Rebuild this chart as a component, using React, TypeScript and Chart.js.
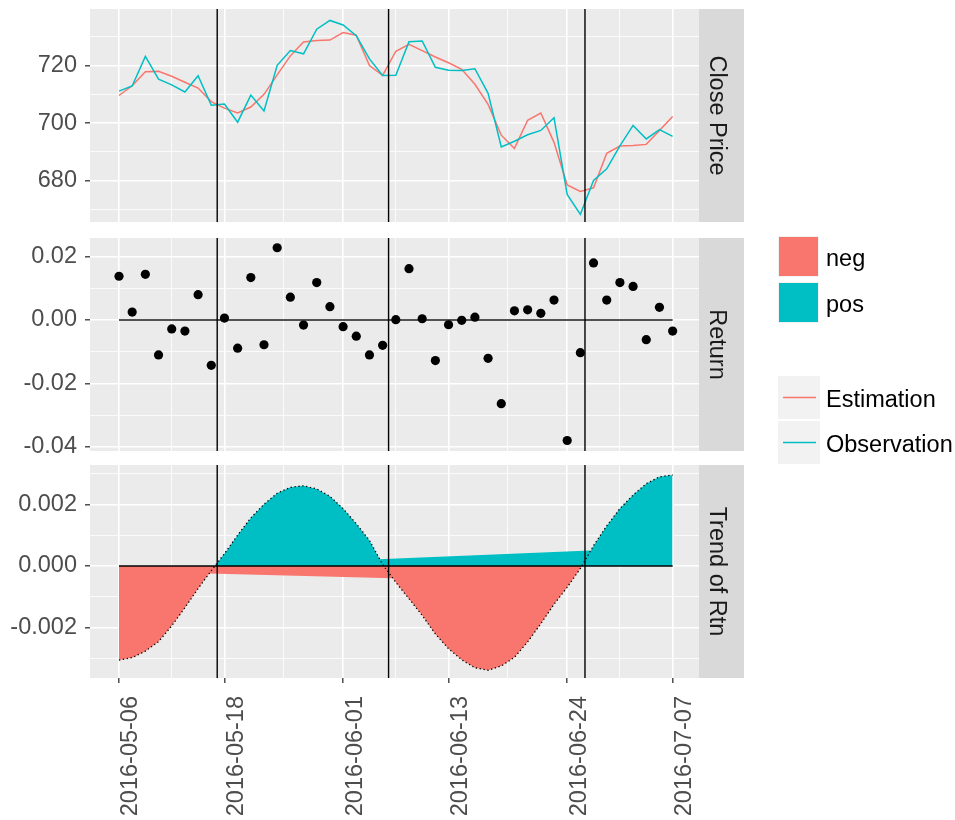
import React, { useEffect, useRef } from 'react';
import { Chart, registerables } from 'chart.js';

Chart.register(...registerables);

// ---------------- data ----------------
const tradingDays = [
  '2016-05-06', '2016-05-09', '2016-05-10', '2016-05-11', '2016-05-12', '2016-05-13',
  '2016-05-16', '2016-05-17', '2016-05-18', '2016-05-19', '2016-05-20', '2016-05-23',
  '2016-05-24', '2016-05-25', '2016-05-26', '2016-05-27', '2016-05-31', '2016-06-01',
  '2016-06-02', '2016-06-03', '2016-06-06', '2016-06-07', '2016-06-08', '2016-06-09',
  '2016-06-10', '2016-06-13', '2016-06-14', '2016-06-15', '2016-06-16', '2016-06-17',
  '2016-06-20', '2016-06-21', '2016-06-22', '2016-06-23', '2016-06-24', '2016-06-27',
  '2016-06-28', '2016-06-29', '2016-06-30', '2016-07-01', '2016-07-05', '2016-07-06',
  '2016-07-07',
];

const tickDates = ['2016-05-06', '2016-05-18', '2016-06-01', '2016-06-13', '2016-06-24', '2016-07-07'];

const closeObserved = [
  711.12, 712.9, 723.18, 715.29, 713.31, 710.83, 716.49, 706.23, 706.63, 700.32,
  709.74, 704.24, 720.09, 725.27, 724.12, 732.66, 735.72, 734.15, 730.4, 722.34,
  716.55, 716.65, 728.28, 728.58, 719.41, 718.36, 718.27, 718.92, 710.36, 691.72,
  693.71, 695.94, 697.46, 701.87, 675.22, 668.26, 680.04, 684.11, 692.1, 699.21,
  694.49, 697.77, 695.36,
];

const closeEstimated = [
  709.6, 713.0, 717.9, 718.0, 716.3, 714.2, 712.2, 707.5, 705.2, 703.5,
  705.6, 710.0, 716.8, 723.4, 728.2, 728.7, 728.9, 731.5, 730.6, 720.0,
  716.6, 725.0, 727.4, 725.2, 723.0, 721.0, 718.7, 713.5, 706.5, 695.8,
  691.2, 701.0, 703.5, 693.3, 678.5, 676.2, 677.5, 689.5, 692.0, 692.2,
  692.6, 697.4, 702.3,
];

const dailyReturn = [
  0.0138, 0.0025, 0.0144, -0.011, -0.0028, -0.0035, 0.008, -0.0143, 0.0006, -0.0089,
  0.0134, -0.0078, 0.0228, 0.0072, -0.0016, 0.0118, 0.0042, -0.0021, -0.0051, -0.011,
  -0.008, 0.0001, 0.0162, 0.0004, -0.0128, -0.0015, -0.0001, 0.0009, -0.0121, -0.0264,
  0.0029, 0.0032, 0.0021, 0.0063, -0.038, -0.0103, 0.018, 0.0063, 0.0118, 0.0106,
  -0.0062, 0.004, -0.0035,
];

const trendOfReturn = [
  -0.00305, -0.00297, -0.00276, -0.00245, -0.00194, -0.00135, -0.00073, -0.00015, 0.0004, 0.001,
  0.00156, 0.002, 0.00236, 0.00255, 0.0026, 0.0025, 0.00226, 0.00186, 0.00137, 0.00083,
  0.00005, -0.00053, -0.00106, -0.0016, -0.0022, -0.00268, -0.00304, -0.0033, -0.00338, -0.00324,
  -0.00296, -0.00246, -0.00187, -0.00124, -0.00069, -0.00008, 0.00066, 0.0013, 0.00186, 0.0023,
  0.00267, 0.00289, 0.00295,
];

// thin stacked bands of the trend area
const negBandX = [6.8, 20.75];
const negBandY = [-0.00024, -0.0004];
const posBandX = [19.7, 35.75];
const posBandY = [0.00022, 0.0005];

// regime change markers (x position in trading-day index)
const regimeBreaks = [7.45, 20.45, 35.35];

const priceTicks = [670, 680, 690, 700, 710, 720, 730];
const priceMajor = [680, 700, 720];
const returnTicks = [-0.04, -0.03, -0.02, -0.01, 0, 0.01, 0.02];
const returnMajor = [-0.04, -0.02, 0, 0.02];
const trendTicks = [-0.003, -0.002, -0.001, 0, 0.001, 0.002, 0.003];
const trendMajor = [-0.002, 0, 0.002];

// ---------------- style / layout ----------------
const W = 955;
const H = 820;
const PANEL_RIGHT = 699;
const AXIS_W = 90;
const STRIP_W = 45;
const X_MIN = -2.2;
const X_MAX = 44.0;
const FONT = '"Liberation Sans", Arial, Helvetica, sans-serif';
const FS = 23.5;
const RED = '#F8766D';
const TEAL = '#00BFC4';
const PANEL_BG = '#EBEBEB';
const STRIP_BG = '#D9D9D9';

const xMajor = tickDates.map((d) => tradingDays.indexOf(d));
const xMinor = xMajor.slice(1).map((v, i) => (v + xMajor[i]) / 2);
const xAll = [...xMajor, ...xMinor].sort((a, b) => a - b);

const near = (arr: number[], v: number) => arr.some((a) => Math.abs(a - v) < 1e-9);

const panelBg = {
  id: 'panelBg',
  beforeDraw(chart: any) {
    const { ctx, chartArea: a } = chart;
    ctx.save();
    ctx.fillStyle = PANEL_BG;
    ctx.fillRect(a.left, a.top, a.right - a.left, a.bottom - a.top);
    ctx.restore();
  },
};

const breakLines = {
  id: 'breakLines',
  afterDatasetsDraw(chart: any) {
    const { ctx, chartArea: a } = chart;
    const xs = chart.scales.x;
    ctx.save();
    ctx.strokeStyle = '#000';
    ctx.lineWidth = 1.4;
    regimeBreaks.forEach((b) => {
      const px = xs.getPixelForValue(b);
      ctx.beginPath();
      ctx.moveTo(px, a.top);
      ctx.lineTo(px, a.bottom);
      ctx.stroke();
    });
    ctx.restore();
  },
};

function stripPlugin(label: string) {
  return {
    id: 'strip',
    afterDraw(chart: any) {
      const { ctx, chartArea: a } = chart;
      ctx.save();
      ctx.fillStyle = STRIP_BG;
      ctx.fillRect(a.right, a.top, STRIP_W, a.bottom - a.top);
      ctx.translate(a.right + STRIP_W / 2 - 5, (a.top + a.bottom) / 2);
      ctx.rotate(Math.PI / 2);
      ctx.fillStyle = '#1A1A1A';
      ctx.font = `${FS}px ${FONT}`;
      ctx.textAlign = 'center';
      ctx.textBaseline = 'middle';
      ctx.fillText(label, 0, 0);
      ctx.restore();
    },
  };
}

const legendPlugin = {
  id: 'legendBox',
  afterDraw(chart: any) {
    const ctx = chart.ctx;
    ctx.save();
    ctx.font = `${FS}px ${FONT}`;
    ctx.textAlign = 'left';
    ctx.textBaseline = 'alphabetic';
    const fills = [
      { label: 'neg', color: RED, top: 236 },
      { label: 'pos', color: TEAL, top: 282 },
    ];
    fills.forEach((f) => {
      ctx.fillStyle = '#F2F2F2';
      ctx.fillRect(778, f.top, 41, 41);
      ctx.fillStyle = f.color;
      ctx.fillRect(779, f.top + 1, 39, 39);
      ctx.fillStyle = '#000';
      ctx.fillText(f.label, 826, f.top + 20.5 + 9);
    });
    const lines = [
      { label: 'Estimation', color: RED, top: 376 },
      { label: 'Observation', color: TEAL, top: 421 },
    ];
    lines.forEach((l) => {
      ctx.fillStyle = '#F2F2F2';
      ctx.fillRect(778, l.top, 42, 43);
      ctx.strokeStyle = l.color;
      ctx.lineWidth = 1.5;
      ctx.beginPath();
      ctx.moveTo(783, l.top + 21.5);
      ctx.lineTo(816, l.top + 21.5);
      ctx.stroke();
      ctx.fillStyle = '#000';
      ctx.fillText(l.label, 826, l.top + 21.5 + 9);
    });
    ctx.restore();
  },
};

function zeroPad(s: any) {
  s.paddingTop = 0;
  s.paddingBottom = 0;
  s.paddingLeft = 0;
  s.paddingRight = 0;
}

function makeOptions(
  top: number,
  bottom: number,
  yMin: number,
  yMax: number,
  yTicks: number[],
  yMajor: number[],
  fmt: (v: number) => string,
  showX: boolean,
) {
  return {
    responsive: false,
    animation: false,
    events: [],
    layout: { padding: { left: 0, right: W - PANEL_RIGHT, top, bottom: showX ? 0 : H - bottom } },
    plugins: { legend: { display: false }, tooltip: { enabled: false } },
    scales: {
      x: {
        type: 'linear',
        min: X_MIN,
        max: X_MAX,
        afterBuildTicks: (s: any) => {
          s.ticks = xAll.map((v) => ({ value: v }));
        },
        afterFit: (s: any) => {
          s.height = showX ? H - bottom : 0;
          zeroPad(s);
        },
        border: { display: false },
        grid: {
          color: '#FFFFFF',
          lineWidth: (c: any) => (c.tick && near(xMajor, c.tick.value) ? 1.6 : 0.8),
          drawTicks: showX,
          tickLength: 5,
          tickWidth: 1.3,
          tickColor: (c: any) => (c.tick && near(xMajor, c.tick.value) ? '#333333' : 'rgba(0,0,0,0)'),
        },
        ticks: {
          display: showX,
          autoSkip: false,
          minRotation: 90,
          maxRotation: 90,
          padding: 13,
          labelOffset: 12,
          color: '#4D4D4D',
          font: { family: FONT, size: FS },
          callback: (v: any) => {
            const i = xMajor.findIndex((m) => Math.abs(m - v) < 1e-9);
            return i >= 0 ? tickDates[i] : '';
          },
        },
      },
      y: {
        type: 'linear',
        min: yMin,
        max: yMax,
        afterBuildTicks: (s: any) => {
          s.ticks = yTicks.map((v) => ({ value: v }));
        },
        afterFit: (s: any) => {
          s.width = AXIS_W;
          zeroPad(s);
        },
        border: { display: false },
        grid: {
          color: '#FFFFFF',
          lineWidth: (c: any) => (c.tick && near(yMajor, c.tick.value) ? 1.6 : 0.8),
          drawTicks: true,
          tickLength: 5,
          tickWidth: 1.3,
          tickColor: (c: any) => (c.tick && near(yMajor, c.tick.value) ? '#333333' : 'rgba(0,0,0,0)'),
        },
        ticks: {
          autoSkip: false,
          padding: 8,
          color: '#4D4D4D',
          font: { family: FONT, size: FS },
          callback: (v: any) => (near(yMajor, v) ? fmt(v) : ''),
        },
      },
    },
  };
}

const idxPoints = (vals: number[]) => vals.map((y, i) => ({ x: i, y }));
const pairPoints = (xs: number[], ys: number[]) => xs.map((x, i) => ({ x, y: ys[i] }));

function priceConfig(): any {
  return {
    type: 'line',
    data: {
      datasets: [
        {
          label: 'Observation',
          data: idxPoints(closeObserved),
          borderColor: TEAL,
          borderWidth: 1.5,
          pointRadius: 0,
          tension: 0,
          order: 1,
        },
        {
          label: 'Estimation',
          data: idxPoints(closeEstimated),
          borderColor: RED,
          borderWidth: 1.5,
          pointRadius: 0,
          tension: 0,
          order: 2,
        },
      ],
    },
    options: makeOptions(9, 222, 665.6, 739.7, priceTicks, priceMajor, (v) => String(v), false),
    plugins: [panelBg, breakLines, stripPlugin('Close Price'), legendPlugin],
  };
}

function returnConfig(): any {
  return {
    type: 'line',
    data: {
      datasets: [
        {
          label: 'zero',
          data: [{ x: 0, y: 0 }, { x: tradingDays.length - 1, y: 0 }],
          borderColor: '#1A1A1A',
          borderWidth: 1.6,
          pointRadius: 0,
          order: 2,
        },
        {
          label: 'Return',
          data: idxPoints(dailyReturn),
          showLine: false,
          pointRadius: 4.6,
          pointBackgroundColor: '#000000',
          pointBorderWidth: 0,
          order: 1,
        },
      ],
    },
    options: makeOptions(238, 451, -0.04132, 0.02587, returnTicks, returnMajor, (v) => v.toFixed(2), false),
    plugins: [panelBg, breakLines, stripPlugin('Return')],
  };
}

function trendConfig(): any {
  return {
    type: 'line',
    data: {
      datasets: [
        {
          label: 'negBand',
          data: pairPoints(negBandX, negBandY),
          borderWidth: 0,
          borderColor: 'rgba(0,0,0,0)',
          backgroundColor: RED,
          fill: 'origin',
          pointRadius: 0,
          order: 5,
        },
        {
          label: 'posBand',
          data: pairPoints(posBandX, posBandY),
          borderWidth: 0,
          borderColor: 'rgba(0,0,0,0)',
          backgroundColor: TEAL,
          fill: 'origin',
          pointRadius: 0,
          order: 4,
        },
        {
          label: 'trend',
          data: idxPoints(trendOfReturn),
          borderColor: '#000000',
          borderWidth: 1.3,
          borderDash: [1.3, 2.6],
          fill: { target: 'origin', above: TEAL, below: RED },
          pointRadius: 0,
          tension: 0,
          order: 3,
        },
        {
          label: 'zero',
          data: [{ x: 0, y: 0 }, { x: tradingDays.length - 1, y: 0 }],
          borderColor: '#000000',
          borderWidth: 1.6,
          pointRadius: 0,
          order: 1,
        },
      ],
    },
    options: makeOptions(465, 678, -0.00363, 0.003274, trendTicks, trendMajor, (v) => v.toFixed(3), true),
    plugins: [panelBg, breakLines, stripPlugin('Trend of Rtn')],
  };
}

export default function App() {
  const r1 = useRef<HTMLCanvasElement>(null);
  const r2 = useRef<HTMLCanvasElement>(null);
  const r3 = useRef<HTMLCanvasElement>(null);

  useEffect(() => {
    const charts = [
      new Chart(r1.current as HTMLCanvasElement, priceConfig()),
      new Chart(r2.current as HTMLCanvasElement, returnConfig()),
      new Chart(r3.current as HTMLCanvasElement, trendConfig()),
    ];
    return () => charts.forEach((c) => c.destroy());
  }, []);

  const cs: React.CSSProperties = { position: 'absolute', left: 0, top: 0, width: W, height: H };
  return (
    <div style={{ position: 'absolute', left: 0, top: 0, width: W, height: H, background: '#FFFFFF', overflow: 'hidden' }}>
      <canvas ref={r1} width={W} height={H} style={cs} />
      <canvas ref={r2} width={W} height={H} style={cs} />
      <canvas ref={r3} width={W} height={H} style={cs} />
    </div>
  );
}
